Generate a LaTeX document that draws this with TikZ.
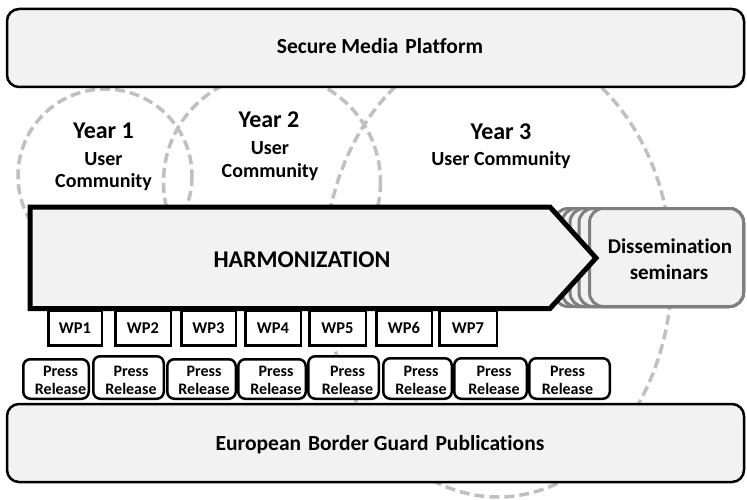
\documentclass[tikz,border=0pt]{standalone}
\usepackage{fontspec}
\setmainfont{Carlito}[Ligatures=NoCommon]
\definecolor{boxfill}{HTML}{F2F2F2}
\definecolor{circgray}{HTML}{C0C0C0}
\definecolor{disgray}{HTML}{7F7F7F}
\begin{document}
\begin{tikzpicture}[x=1pt,y=-1pt,
  dashc/.style={draw=circgray, line width=3.5pt, dash pattern=on 10pt off 5pt},
  bigbox/.style={draw=black, line width=2.5pt, fill=boxfill, rounded corners=12pt,
    minimum width=737pt, minimum height=78pt, inner sep=0pt},
  wpbox/.style={draw=black, line width=2.5pt, fill=white, minimum height=35pt, inner sep=0pt,
    font=\fontsize{16.5}{20}\selectfont\bfseries},
  prbox/.style={draw=black, line width=2.5pt, fill=white, rounded corners=7pt, inner sep=0pt},
  disbox/.style={draw=disgray, line width=3pt, fill=boxfill, rounded corners=14pt},
  harm/.style={draw=black, line width=5pt, fill=boxfill, line join=miter},
  txt/.style={inner sep=0pt, anchor=base, font=\fontsize{20}{24}\selectfont\bfseries},
  plattxt/.style={txt, font=\fontsize{21.5}{26}\selectfont\bfseries},
  yeartxt/.style={txt, font=\fontsize{24}{28}\selectfont\bfseries},
  prtxt/.style={txt, font=\fontsize{16}{18}\selectfont\bfseries}
]
\useasboundingbox[fill=white] (0,0) rectangle (747,500);

% user community circles
\draw[dashc] (105,176) circle[radius=87];
\draw[dashc] (272,182) circle[radius=108.5];
\draw[dashc] (498,270) ellipse[x radius=174, y radius=227];

% top and bottom platforms
\node[bigbox] (smp) at (375.5,48) {};
\node[plattxt] (smpt) at (380,54) {Secure Media\hspace{2pt} Platform};
\node[bigbox] (ebg) at (375.5,443) {};
\node[plattxt] (ebgt) at (380,450) {European\hspace{2pt} Border Guard\hspace{2pt} Publications};

% year labels
\node[yeartxt] (y1) at (103.5,139) {Year 1};
\node[txt] (y1a) at (103.5,165) {User};
\node[txt] (y1b) at (103.5,187) {Community};
\node[yeartxt] (y2) at (269,128) {Year 2};
\node[txt] (y2a) at (270,154) {User};
\node[txt] (y2b) at (270,177) {Community};
\node[yeartxt] (y3) at (501,140) {Year 3};
\node[txt] (y3a) at (501,165) {User Community};

% dissemination seminars (stacked)
\foreach \xl [count=\i] in {554,562,570,579} {
  \draw[disbox] (\xl,208.5) rectangle (743.5,306.5);
}
\node[disbox, minimum width=154pt, minimum height=98pt, inner sep=0pt] (dis) at (666.5,257.5) {};
\node[txt, font=\fontsize{21}{25}\selectfont\bfseries] (dist1) at (670,253.5) {Dissemination};
\node[txt, font=\fontsize{21}{25}\selectfont\bfseries] (dist2) at (669,279) {seminars};

% work packages
\node[wpbox, minimum width=53.5pt] (wp1) at (75,328) {WP1};
\node[wpbox, minimum width=55.5pt] (wp2) at (143,328) {WP2};
\node[wpbox, minimum width=54.5pt] (wp3) at (208.5,328) {\raisebox{-2pt}{WP3}};
\node[wpbox, minimum width=55.5pt] (wp4) at (273,328) {WP4};
\node[wpbox, minimum width=56.5pt] (wp5) at (337.5,328) {WP5};
\node[wpbox, minimum width=55.5pt] (wp6) at (404,328) {WP6};
\node[wpbox, minimum width=57.5pt] (wp7) at (468,328) {WP7};

% harmonization arrow
\draw[harm] (30,207) -- (550,207) -- (596,258) -- (550,308.5) -- (30,308.5) -- cycle;
\node[txt, font=\fontsize{24}{28}\selectfont\bfseries] (harmt) at (302,267) {HARMONIZATION};

% press releases
\foreach \cx/\cy/\w/\h/\tx [count=\i] in
  {56/379/65.5/39.5/60.5, 128.5/377.5/70.5/42.5/131, 201.5/379/68.5/39.5/204,
   272/379/67.5/39.5/276, 343.5/377.5/70.5/42.5/347.5, 417.5/378.5/68.5/40.5/421,
   490.5/378.5/72.5/40.5/494, 569.5/378.5/80.5/40.5/567.5} {
  \node[prbox, minimum width=\w pt, minimum height=\h pt] (pr\i) at (\cx,\cy) {};
  \node[prtxt] (pra\i) at (\tx,376) {Press};
  \node[prtxt] (prb\i) at (\tx,394.5) {Release};
}
\end{tikzpicture}
\end{document}
